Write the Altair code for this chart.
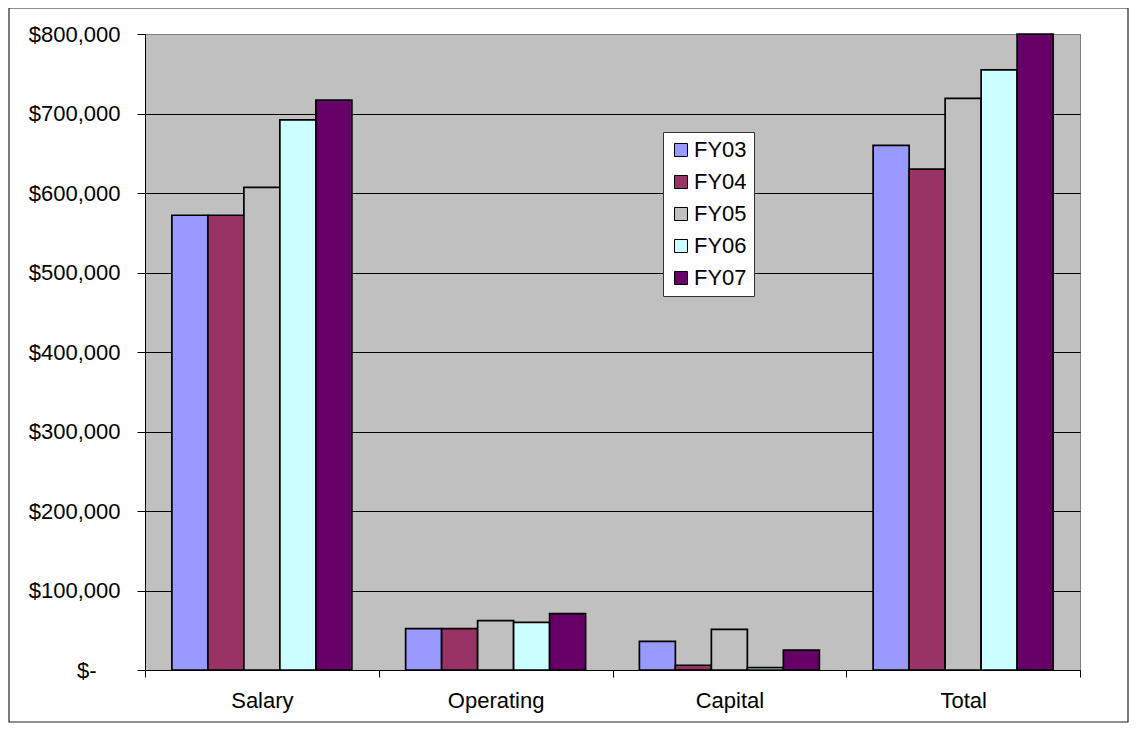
import altair as alt
import pandas as pd

categories = ["Salary", "Operating", "Capital", "Total"]
years = ["FY03", "FY04", "FY05", "FY06", "FY07"]
salary = [572000, 572000, 607000, 692000, 717000]
operating = [52000, 52000, 62000, 60000, 71000]
capital = [36000, 6000, 51000, 3000, 25000]
total = [660000, 630000, 719000, 755000, 813000]
tick_values = [0, 100000, 200000, 300000, 400000, 500000, 600000, 700000, 800000]
colors = ["#9999FF", "#993366", "#C0C0C0", "#CCFFFF", "#660066"]

rows = []
for cat, vals in zip(categories, [salary, operating, capital, total]):
    for yr, v in zip(years, vals):
        rows.append({"category": cat, "year": yr, "amount": v})
df = pd.DataFrame(rows)

W, H = 935, 636
FONT = "Liberation Sans"
FS = 22

bars = alt.Chart(df).mark_bar(stroke="black", strokeWidth=1.7).encode(
    x=alt.X(
        "category:N", sort=categories, title=None,
        scale=alt.Scale(paddingInner=0, paddingOuter=0),
        axis=alt.Axis(labelAngle=0, tickBand="extent", tickSize=7, tickColor="black",
                      domainColor="black", labelPadding=13, labelFontSize=FS,
                      labelColor="black", labelFont=FONT, grid=False),
    ),
    xOffset=alt.XOffset("year:N", sort=years,
                        scale=alt.Scale(paddingInner=0, paddingOuter=0.747)),
    y=alt.Y(
        "amount:Q", title=None,
        scale=alt.Scale(domain=[0, 800000], clamp=True, nice=False),
        axis=alt.Axis(
            values=tick_values,
            labelExpr="datum.value == 0 ? '$-' : '$' + format(datum.value, ',')",
            tickSize=8, tickColor="black", domainColor="black",
            labelPadding={"condition": {"test": "datum.value == 0", "value": 41},
                          "value": 17},
            labelFontSize=FS, labelColor="black", labelFont=FONT,
            grid=True, gridWidth=1,
            gridColor={"condition": {"test": "datum.value >= 800000", "value": "#808080"},
                       "value": "black"},
        ),
    ),
    color=alt.Color(
        "year:N", sort=years,
        scale=alt.Scale(domain=years, range=colors),
        legend=alt.Legend(
            title=None, orient="none", legendX=518, legendY=98,
            fillColor="white", strokeColor="#333333", padding=7,
            rowPadding=10, labelOffset=2, labelFontSize=FS, labelFont=FONT,
            labelColor="black", symbolType="square", symbolSize=169,
            symbolStrokeColor="black", symbolStrokeWidth=1,
        ),
    ),
)

border = alt.Chart(pd.DataFrame({"a": [0]})).mark_rect(
    fill=None, stroke="#222222", strokeWidth=1.2
).encode(
    x=alt.value(-136), x2=alt.value(W + 48),
    y=alt.value(-26), y2=alt.value(H + 52),
)

chart = alt.layer(border, bars).properties(
    width=W, height=H,
    autosize=alt.AutoSizeParams(type="none"),
    padding={"left": 137, "top": 26, "right": 49, "bottom": 53},
    background="white",
).configure_view(fill="#C0C0C0", stroke="#808080", strokeWidth=1)

chart.save("out.html", embed_options={"renderer": "svg", "actions": False})
